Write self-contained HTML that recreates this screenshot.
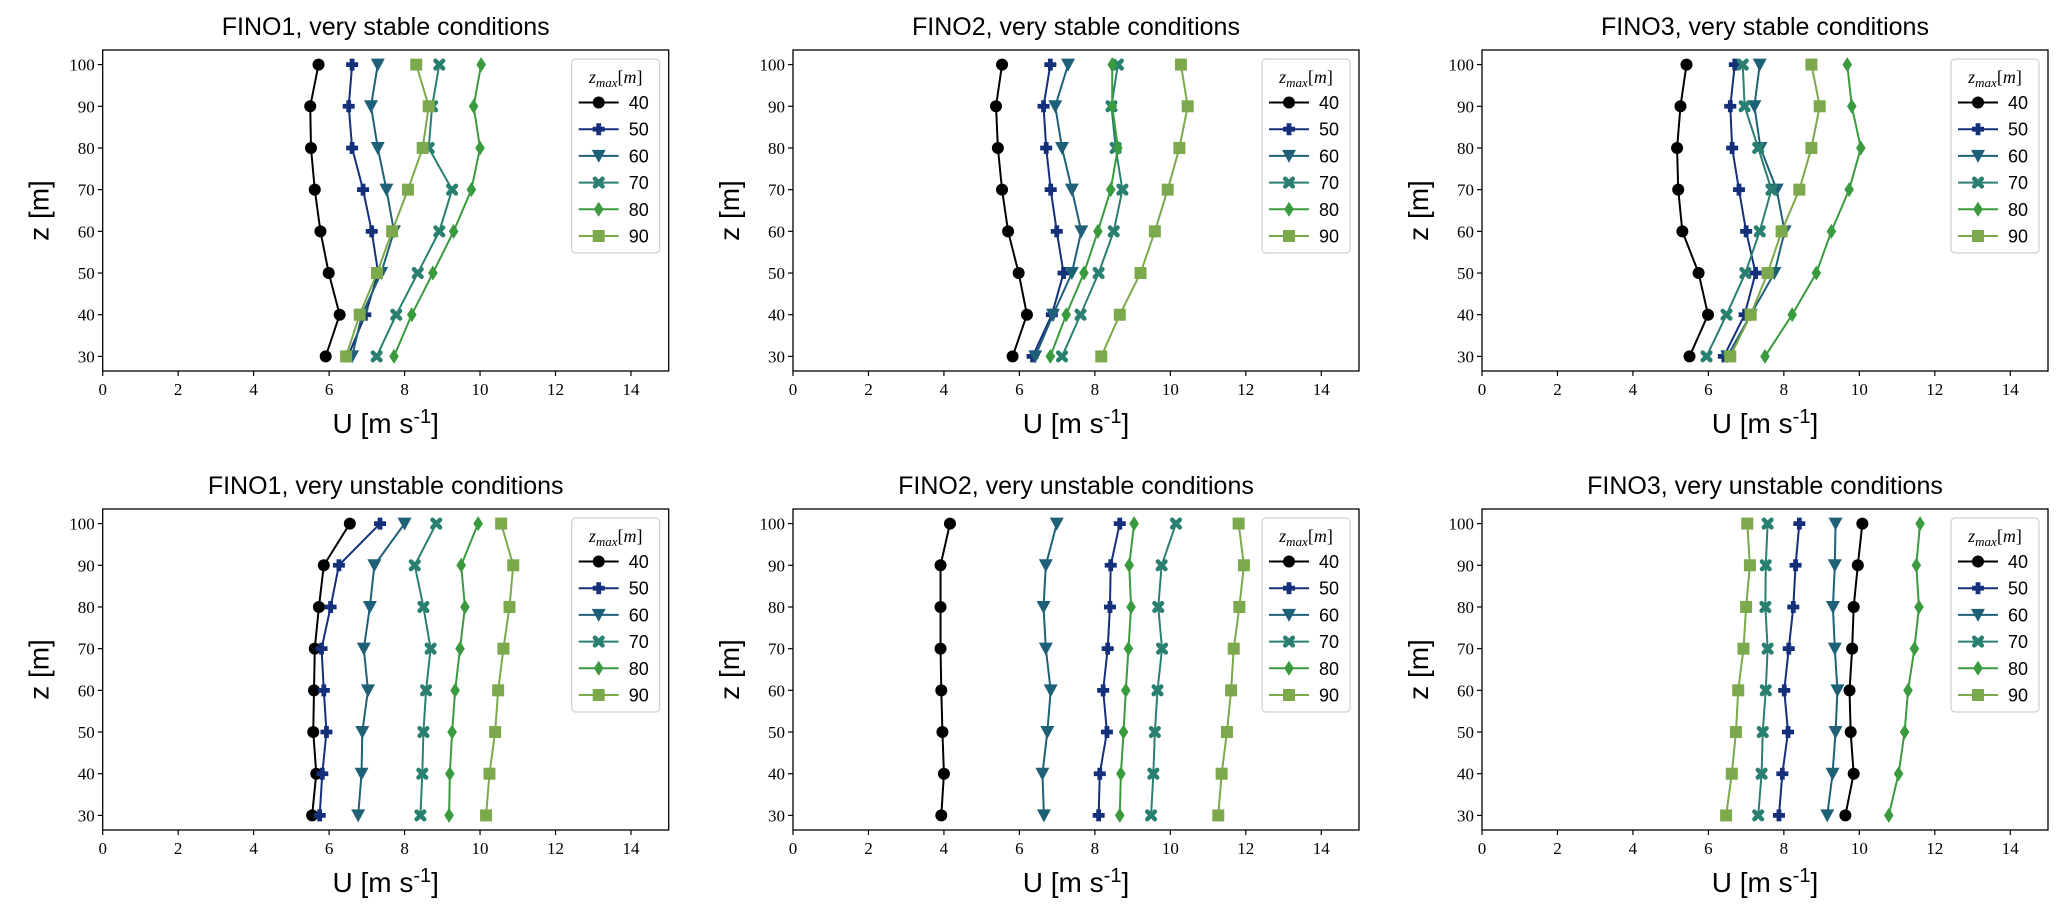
<!DOCTYPE html>
<html><head><meta charset="utf-8">
<style>
html,body{margin:0;padding:0;background:#fff;}
svg{display:block;}
.tick{font-family:"Liberation Serif",serif;font-size:17px;fill:#000;}
.title{font-family:"Liberation Sans",sans-serif;font-size:25px;fill:#000;}
.axlab{font-family:"Liberation Sans",sans-serif;font-size:28px;fill:#000;}
.leg{font-family:"Liberation Sans",sans-serif;font-size:18px;fill:#000;}
.legt{font-family:"Liberation Serif",serif;font-size:18px;font-style:italic;fill:#000;}
</style></head>
<body>
<svg id="fig" width="2067" height="922" viewBox="0 0 2067 922" xmlns="http://www.w3.org/2000/svg"></svg>
<script>
const heights = [30,40,50,60,70,80,90,100];
const seriesLabels = ['40','50','60','70','80','90'];
const panelTitles = ['FINO1, very stable conditions','FINO2, very stable conditions','FINO3, very stable conditions','FINO1, very unstable conditions','FINO2, very unstable conditions','FINO3, very unstable conditions'];
const xTicks = [0,2,4,6,8,10,12,14];
const yTicks = [30,40,50,60,70,80,90,100];
const fino1Stable = [
 [5.91,6.28,5.99,5.77,5.62,5.52,5.50,5.72],
 [6.50,6.96,7.30,7.13,6.90,6.61,6.52,6.61],
 [6.61,6.87,7.38,7.72,7.52,7.29,7.11,7.29],
 [7.26,7.78,8.35,8.92,9.26,8.64,8.73,8.92],
 [7.72,8.19,8.75,9.30,9.77,10.00,9.83,10.03],
 [6.45,6.81,7.27,7.67,8.09,8.48,8.64,8.31]];
const fino2Stable = [
 [5.82,6.20,5.98,5.70,5.54,5.43,5.38,5.54],
 [6.35,6.86,7.17,6.99,6.83,6.71,6.64,6.82],
 [6.42,6.89,7.39,7.64,7.39,7.13,6.95,7.29],
 [7.13,7.62,8.10,8.50,8.73,8.55,8.44,8.61],
 [6.82,7.24,7.71,8.08,8.42,8.61,8.46,8.46],
 [8.17,8.66,9.21,9.59,9.93,10.24,10.46,10.28]];
const fino3Stable = [
 [5.50,5.99,5.74,5.31,5.20,5.17,5.26,5.42],
 [6.41,6.96,7.25,7.00,6.81,6.63,6.58,6.70],
 [6.50,7.12,7.75,8.02,7.81,7.38,7.22,7.36],
 [5.95,6.48,6.98,7.36,7.67,7.32,6.96,6.91],
 [7.50,8.22,8.86,9.26,9.73,10.04,9.80,9.68],
 [6.58,7.12,7.57,7.94,8.41,8.73,8.95,8.73]];
const fino1Unstable = [
 [5.55,5.66,5.58,5.60,5.62,5.73,5.86,6.55],
 [5.75,5.82,5.93,5.86,5.80,6.04,6.26,7.35],
 [6.77,6.86,6.88,7.03,6.92,7.08,7.20,8.00],
 [8.42,8.47,8.50,8.57,8.69,8.50,8.27,8.84],
 [9.18,9.20,9.26,9.34,9.47,9.60,9.50,9.95],
 [10.16,10.25,10.40,10.48,10.62,10.78,10.88,10.56]];
const fino2Unstable = [
 [3.93,4.00,3.96,3.93,3.91,3.91,3.91,4.16],
 [8.10,8.13,8.32,8.22,8.34,8.40,8.42,8.66],
 [6.65,6.61,6.74,6.83,6.70,6.64,6.70,6.99],
 [9.49,9.55,9.59,9.66,9.78,9.68,9.77,10.15],
 [8.66,8.69,8.76,8.82,8.89,8.96,8.91,9.04],
 [11.27,11.36,11.50,11.61,11.68,11.83,11.95,11.81]];
const fino3Unstable = [
 [9.63,9.85,9.77,9.74,9.81,9.85,9.96,10.08],
 [7.87,7.96,8.11,8.01,8.13,8.25,8.31,8.41],
 [9.15,9.29,9.37,9.42,9.35,9.30,9.35,9.37],
 [7.32,7.41,7.44,7.52,7.57,7.51,7.52,7.57],
 [10.78,11.04,11.20,11.29,11.46,11.58,11.51,11.61],
 [6.47,6.62,6.73,6.79,6.93,7.00,7.10,7.03]];
const panelData = [fino1Stable,fino2Stable,fino3Stable,fino1Unstable,fino2Unstable,fino3Unstable];

const colors = ['#000000','#15307a','#1f6079','#2a8070','#3a9a3e','#7ca94b'];
const markers = ['o','P','v','X','d','s'];
const NS='http://www.w3.org/2000/svg';
const svg=document.getElementById('fig');
function mk(tag,attrs,parent){const e=document.createElementNS(NS,tag);for(const k in attrs)e.setAttribute(k,attrs[k]);(parent||svg).appendChild(e);return e;}

const lefts=[102.7,793,1482], W=566, tops=[50,509], H=321;
const XMIN=0,XMAX=15,YMIN=26.5,YMAX=103.5;

function marker(g,type,cx,cy,col){
  let e;
  if(type==='o') e=mk('circle',{cx:cx,cy:cy,r:6,fill:col},g);
  else if(type==='s') e=mk('rect',{x:cx-6,y:cy-6,width:12,height:12,fill:col},g);
  else if(type==='v') e=mk('polygon',{points:`${cx-7},${cy-6} ${cx+7},${cy-6} ${cx},${cy+7}`,fill:col},g);
  else if(type==='d') e=mk('polygon',{points:`${cx},${cy-7.5} ${cx+4.8},${cy} ${cx},${cy+7.5} ${cx-4.8},${cy}`,fill:col},g);
  else if(type==='P'){const a=2.4,b=6;e=mk('polygon',{points:`${cx-a},${cy-b} ${cx+a},${cy-b} ${cx+a},${cy-a} ${cx+b},${cy-a} ${cx+b},${cy+a} ${cx+a},${cy+a} ${cx+a},${cy+b} ${cx-a},${cy+b} ${cx-a},${cy+a} ${cx-b},${cy+a} ${cx-b},${cy-a} ${cx-a},${cy-a}`,fill:col},g);}
  else if(type==='X'){e=mk('path',{d:`M${cx-3.8},${cy-3.8}L${cx+3.8},${cy+3.8}M${cx+3.8},${cy-3.8}L${cx-3.8},${cy+3.8}`,stroke:col,'stroke-width':4.5,'stroke-linecap':'round',fill:'none'},g);}
  return e;
}

for(let p=0;p<6;p++){
  const L=lefts[p%3], T=tops[Math.floor(p/3)];
  const xs=v=>L+(v-XMIN)/(XMAX-XMIN)*W;
  const ys=v=>T+(YMAX-v)/(YMAX-YMIN)*H;
  const g=mk('g',{});
  
  
  const t=mk('text',{x:L+W/2,y:T-15,'text-anchor':'middle',class:'title'},g);
  t.textContent=panelTitles[p];
  
  
  xTicks.forEach(v=>{
    mk('line',{x1:xs(v),x2:xs(v),y1:T+H,y2:T+H+5,stroke:'#000','stroke-width':1.2},g);
    const tx=mk('text',{x:xs(v),y:T+H+24,'text-anchor':'middle',class:'tick'},g);
    tx.textContent=v;
    
    
  });
  yTicks.forEach(v=>{
    mk('line',{x1:L-5,x2:L,y1:ys(v),y2:ys(v),stroke:'#000','stroke-width':1.2},g);
    const ty=mk('text',{x:L-8,y:ys(v)+6,'text-anchor':'end',class:'tick'},g);
    ty.textContent=v;
    
    
  });
  const xl=mk('text',{x:L+W/2,y:T+H+62,'text-anchor':'middle',class:'axlab'},g);
  xl.innerHTML='U [m s<tspan dy="-10" font-size="20">-1</tspan><tspan dy="10">]</tspan>';
  
  
  const yl=mk('text',{x:0,y:0,'text-anchor':'middle',class:'axlab',transform:`translate(${L-54},${T+H/2}) rotate(-90)`},g);
  yl.textContent='z [m]';
  
  
  panelData[p].forEach((vals,si)=>{
    const sg=mk('g',{},g);
    
    
    const pts=vals.map((v,i)=>xs(v)+','+ys(heights[i])).join(' ');
    mk('polyline',{points:pts,fill:'none',stroke:colors[si],'stroke-width':2},sg);
    vals.forEach((v,i)=>{
      const m=marker(sg,markers[si],xs(v),ys(heights[i]),colors[si]);
      
      
    });
  });
  const fr=mk('rect',{x:L,y:T,width:W,height:H,fill:'none',stroke:'#000','stroke-width':1.3},g);
  
  
  const lx=L+W-9-88, ly=T+9;
  const lg=mk('g',{},g);
  
  
  mk('rect',{x:lx,y:ly,width:88,height:194,rx:4,fill:'#fff','fill-opacity':0.85,stroke:'#d0d0d0','stroke-width':1.2},lg);
  const lt=mk('text',{x:lx+44,y:ly+24,'text-anchor':'middle',class:'legt'},lg);
  lt.innerHTML='z<tspan font-size="13" dy="4">max</tspan><tspan dy="-4" font-style="normal">[</tspan>m<tspan font-style="normal">]</tspan>';
  
  
  seriesLabels.forEach((s,si)=>{
    const ey=ly+43.5+si*26.7;
    const eg=mk('g',{},lg);
    
    
    mk('line',{x1:lx+7,x2:lx+47,y1:ey,y2:ey,stroke:colors[si],'stroke-width':2},eg);
    marker(eg,markers[si],lx+27,ey,colors[si]);
    const et=mk('text',{x:lx+57,y:ey+6.5,class:'leg'},eg);
    et.textContent=s;
  });
}
</script>
</body></html>
